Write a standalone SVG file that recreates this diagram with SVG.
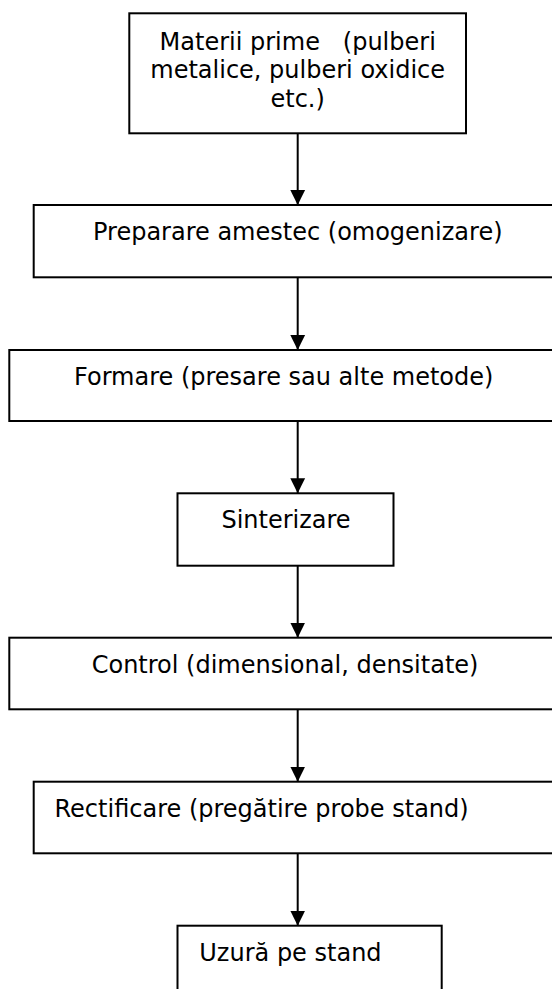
<svg xmlns="http://www.w3.org/2000/svg" width="552" height="989" viewBox="0 0 552 989">
<style>
  .box { fill: #ffffff; stroke: #000000; stroke-width: 2; }
  .lbl { font-family: "DejaVu Sans", Verdana, sans-serif; font-size: 24px; fill: #000000; }
  .mid { text-anchor: middle; }
  .conn { stroke: #000000; stroke-width: 2; fill: none; }
</style>
<defs>
  <marker id="arrow" markerUnits="userSpaceOnUse" markerWidth="16" markerHeight="16" viewBox="0 0 16 16" refX="15" refY="8" orient="auto">
    <path d="M0,0.6 L15,8 L0,15.4 Z" fill="#000000"/>
  </marker>
</defs>
<rect width="552" height="989" fill="#ffffff"/>
<g id="connectors">
  <line class="conn" x1="297.7" y1="133.3" x2="297.7" y2="205" marker-end="url(#arrow)"/>
  <line class="conn" x1="297.7" y1="277.3" x2="297.7" y2="350" marker-end="url(#arrow)"/>
  <line class="conn" x1="297.7" y1="421" x2="297.7" y2="493.3" marker-end="url(#arrow)"/>
  <line class="conn" x1="297.7" y1="565.7" x2="297.7" y2="637.7" marker-end="url(#arrow)"/>
  <line class="conn" x1="297.7" y1="709.3" x2="297.7" y2="781.7" marker-end="url(#arrow)"/>
  <line class="conn" x1="297.7" y1="853.3" x2="297.7" y2="925.7" marker-end="url(#arrow)"/>
</g>
<g id="node1">
  <rect class="box" x="129.3" y="13.3" width="336.7" height="120"/>
  <text class="lbl mid" x="297.7" y="50" xml:space="preserve">Materii prime   (pulberi</text>
  <text class="lbl mid" x="297.7" y="78.3">metalice, pulberi oxidice</text>
  <text class="lbl mid" x="297.7" y="106.7">etc.)</text>
</g>
<g id="node2">
  <rect class="box" x="33.7" y="205" width="530" height="72.3"/>
  <text class="lbl" x="93" y="240">Preparare amestec (omogenizare)</text>
</g>
<g id="node3">
  <rect class="box" x="9.3" y="350" width="560" height="71"/>
  <text class="lbl" x="74" y="384.7">Formare (presare sau alte metode)</text>
</g>
<g id="node4">
  <rect class="box" x="177.5" y="493.3" width="216" height="72.4"/>
  <text class="lbl" x="221.4" y="528.3">Sinterizare</text>
</g>
<g id="node5">
  <rect class="box" x="9.3" y="637.7" width="560" height="71.6"/>
  <text class="lbl" x="91.7" y="672.7">Control (dimensional, densitate)</text>
</g>
<g id="node6">
  <rect class="box" x="33.7" y="781.7" width="530" height="71.6"/>
  <text class="lbl" x="54.5" y="816.9">Rectificare (pregătire probe stand)</text>
</g>
<g id="node7">
  <rect class="box" x="177.5" y="925.7" width="264.2" height="80"/>
  <text class="lbl" x="199.3" y="960.9">Uzură pe stand</text>
</g>
</svg>
